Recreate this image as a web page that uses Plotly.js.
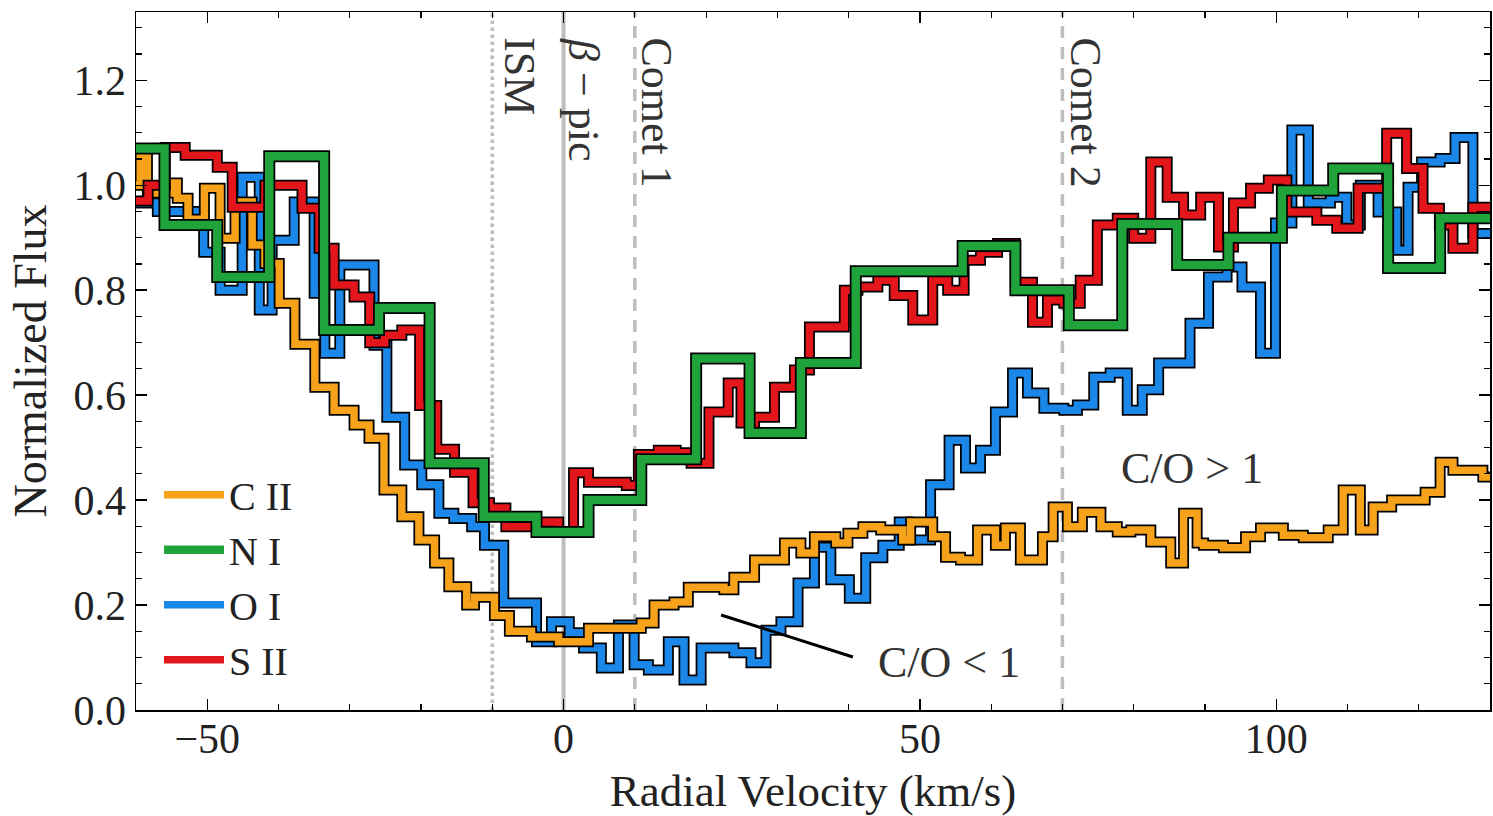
<!DOCTYPE html>
<html>
<head>
<meta charset="utf-8">
<script src="https://cdn.plot.ly/plotly-3.0.1.min.js"></script>
<style>html,body{margin:0;padding:0;background:#fff;}#chart{width:1493px;height:816px;}</style>
</head>
<body>
<div id="chart"></div>
<script>
// ---------------- data ----------------
const seriesNames = ["C II", "N I", "O I", "S II"];

// C II : step left edges (km/s) and normalized flux
const cIIVel = [-60, -59.4, -58.4, -55.2, -54.2, -52.7, -50.4, -48.2, -46.1, -43.7, -41.9, -39.9, -37.7, -34.9, -32.2, -29.4, -27.3, -25.2, -22.7, -20.3, -18.1, -16.1, -13.6, -12.5, -9.7, -7.6, -4.5, -0.7, 3.5, 10.9, 12.7, 15.5, 17.5, 22.5, 23.9, 26.8, 31.0, 33.3, 35.2, 38.2, 39.9, 42.0, 44.5, 47.6, 48.7, 51.8, 53.6, 55.7, 58.1, 60.6, 62.0, 64.1, 67.2, 68.7, 70.7, 72.8, 75.4, 77.7, 79.6, 82.4, 85.2, 87.0, 88.9, 89.8, 92.6, 95.7, 97.8, 101.0, 103.8, 107.3, 109.4, 111.8, 113.6, 116.2, 120.9, 123.0, 124.8, 129.0];
const cIIFlux = [1.00, 1.063, 0.985, 1.004, 0.975, 0.935, 0.994, 0.899, 0.968, 0.886, 0.851, 0.775, 0.697, 0.615, 0.571, 0.543, 0.518, 0.419, 0.368, 0.324, 0.28, 0.235, 0.20, 0.215, 0.18, 0.15, 0.139, 0.13, 0.156, 0.166, 0.20, 0.206, 0.234, 0.229, 0.253, 0.286, 0.318, 0.299, 0.33, 0.318, 0.337, 0.349, 0.343, 0.324, 0.358, 0.33, 0.291, 0.286, 0.343, 0.314, 0.347, 0.286, 0.33, 0.387, 0.349, 0.377, 0.349, 0.339, 0.343, 0.32, 0.28, 0.375, 0.318, 0.314, 0.309, 0.33, 0.347, 0.333, 0.328, 0.343, 0.419, 0.343, 0.387, 0.40, 0.415, 0.472, 0.457, 0.444];

// N I
const nIVel = [-60, -56.0, -48.6, -41.3, -33.6, -25.9, -18.8, -11.2, -3.8, 3.5, 10.9, 18.6, 26.1, 33.3, 41.0, 48.5, 56.0, 63.4, 70.9, 78.4, 86.1, 93.3, 100.8, 108.0, 115.7, 123.0];
const nIFlux = [1.07, 0.924, 0.825, 1.055, 0.724, 0.766, 0.47, 0.368, 0.339, 0.40, 0.478, 0.67, 0.528, 0.661, 0.836, 0.836, 0.884, 0.80, 0.733, 0.926, 0.848, 0.90, 0.99, 1.032, 0.842, 0.937];

// O I
const oIVel = [-60, -57.0, -51.7, -50.5, -48.2, -45.1, -42.7, -40.9, -37.8, -35.0, -33.5, -31.4, -26.6, -24.8, -22.3, -19.9, -17.5, -15.4, -12.9, -11.1, -8.4, -3.8, -1.7, 0.8, 2.8, 5.3, 7.7, 9.9, 11.9, 14.7, 16.9, 19.3, 23.9, 26.3, 28.4, 30.5, 32.9, 35.2, 37.5, 40.1, 42.4, 44.8, 47.1, 48.3, 51.5, 54.1, 56.4, 58.5, 60.6, 63.0, 65.1, 67.4, 70.2, 72.1, 74.4, 76.7, 79.1, 81.2, 83.5, 87.9, 90.5, 93.1, 95.2, 97.8, 99.9, 102.2, 104.5, 107.6, 109.9, 111.8, 114.3, 116.9, 118.5, 120.4, 123.0, 125.1, 127.6];
const oIFlux = [0.966, 0.95, 0.94, 0.872, 0.80, 1.015, 0.762, 0.895, 0.968, 0.794, 0.68, 0.848, 0.695, 0.558, 0.467, 0.429, 0.375, 0.365, 0.349, 0.314, 0.204, 0.13, 0.168, 0.147, 0.118, 0.08, 0.162, 0.086, 0.076, 0.13, 0.057, 0.118, 0.109, 0.09, 0.152, 0.168, 0.242, 0.31, 0.248, 0.213, 0.29, 0.314, 0.358, 0.324, 0.429, 0.514, 0.461, 0.495, 0.568, 0.642, 0.604, 0.575, 0.571, 0.581, 0.634, 0.642, 0.571, 0.61, 0.661, 0.737, 0.825, 0.844, 0.806, 0.68, 0.928, 1.105, 0.966, 0.977, 0.924, 1.0, 0.949, 0.876, 0.996, 1.044, 1.051, 1.091, 0.908];

// S II
const sIIVel = [-60, -58.3, -55.9, -53.1, -48.6, -46.5, -41.9, -36.7, -34.3, -32.2, -29.4, -27.2, -25.1, -22.7, -20.2, -17.8, -15.3, -12.7, -10.4, -8.1, -3.4, -0.7, 1.4, 3.5, 8.8, 10.5, 13.3, 15.8, 17.9, 20.4, 23.1, 24.9, 26.8, 29.6, 32.4, 34.5, 39.4, 41.3, 44.1, 46.4, 49.0, 51.8, 53.9, 56.2, 58.5, 60.9, 63.4, 65.8, 67.9, 70.2, 72.5, 74.9, 77.7, 80.0, 82.4, 84.7, 87.0, 89.4, 91.9, 94.0, 96.4, 98.9, 101.5, 105.7, 108.5, 111.5, 115.5, 118.3, 120.6, 122.9, 124.8, 127.6];
const sIIFlux = [0.97, 1.00, 1.072, 1.057, 1.034, 0.958, 1.0, 0.956, 0.88, 0.81, 0.787, 0.70, 0.714, 0.724, 0.58, 0.497, 0.453, 0.395, 0.385, 0.349, 0.358, 0.34, 0.452, 0.434, 0.428, 0.487, 0.495, 0.49, 0.47, 0.568, 0.623, 0.547, 0.558, 0.615, 0.648, 0.73, 0.80, 0.806, 0.819, 0.79, 0.743, 0.819, 0.80, 0.857, 0.872, 0.889, 0.815, 0.739, 0.781, 0.775, 0.819, 0.924, 0.937, 0.899, 1.044, 0.977, 0.943, 0.977, 0.882, 0.966, 0.994, 1.01, 0.949, 0.933, 0.918, 0.994, 1.099, 1.032, 0.956, 0.924, 0.88, 0.958];

// reference velocities and their labels
const refVel = [-10, 0, 10, 70];
const refLabels = ["ISM", "<i>β</i> − pic", "Comet 1", "Comet 2"];
const refLabelVel = [-6.2, 2.8, 13.0, 73.2];
const refDash = ["dot", "solid", "12px,9px", "12px,9px"];

// C/O annotations
const coLabels = ["C/O > 1", "C/O < 1"];
const coVel = [88.2, 54.1];
const coFlux = [0.461, 0.091];
const pointerVel = [22.1, 40.6];
const pointerFlux = [0.181, 0.101];

const xTickVals = [-50, 0, 50, 100];
const yTickVals = [0.0, 0.2, 0.4, 0.6, 0.8, 1.0, 1.2];

// ---------------- styling ----------------
const colors = {"C II": "#f7a21b", "N I": "#1fa33a", "O I": "#1b87e8", "S II": "#e3161c"};
const widths = {"C II": 7.5, "N I": 8.5, "O I": 7.5, "S II": 7.5};
const X_END = 131;
const FONT = "Liberation Serif, DejaVu Serif, serif";

const seriesData = {
  "C II": [cIIVel, cIIFlux],
  "N I": [nIVel, nIFlux],
  "O I": [oIVel, oIFlux],
  "S II": [sIIVel, sIIFlux]
};
const drawOrder = ["O I", "C II", "S II", "N I"];

const traces = [];
drawOrder.forEach(name => {
  const [vx, vy] = seriesData[name];
  const xs = vx.concat([X_END]);
  const ys = vy.concat([vy[vy.length - 1]]);
  traces.push({
    x: xs, y: ys, type: "scatter", mode: "lines",
    line: {shape: "hv", color: "#000", width: widths[name] + 3.5},
    showlegend: false, hoverinfo: "skip"
  });
  traces.push({
    x: xs, y: ys, type: "scatter", mode: "lines", name: name,
    line: {shape: "hv", color: colors[name], width: widths[name]},
    legendrank: seriesNames.indexOf(name) + 1
  });
});
traces.push({
  x: pointerVel, y: pointerFlux, type: "scatter", mode: "lines",
  line: {color: "#000", width: 3}, showlegend: false, hoverinfo: "skip"
});

const shapes = refVel.map((v, i) => ({
  type: "line", xref: "x", yref: "paper", x0: v, x1: v, y0: 0, y1: 1,
  line: {color: "#bdbdbd", width: i === 1 ? 4 : 3.5, dash: refDash[i]},
  layer: "below"
}));

const annotations = refLabels.map((t, i) => ({
  text: t, x: refLabelVel[i], y: 1.285, xref: "x", yref: "y",
  textangle: 90, xanchor: "center", yanchor: "top", showarrow: false,
  font: {family: FONT, size: 44, color: "#333"}
})).concat(coLabels.map((t, i) => ({
  text: t, x: coVel[i], y: coFlux[i], xref: "x", yref: "y",
  xanchor: "center", yanchor: "middle", showarrow: false,
  font: {family: FONT, size: 44, color: "#333"}
})));

const axisCommon = {
  showline: true, linecolor: "#000", linewidth: 1.5, mirror: "allticks",
  ticks: "inside", ticklen: 11, tickwidth: 1.3, tickcolor: "#000",
  showgrid: false, zeroline: false,
  tickfont: {family: FONT, size: 42, color: "#222"}
};

const layout = {
  width: 1493, height: 816,
  margin: {l: 136, r: 3, t: 12, b: 106},
  paper_bgcolor: "#fff", plot_bgcolor: "#fff",
  xaxis: Object.assign({}, axisCommon, {
    range: [-60, 130], tickvals: xTickVals, ticklabelstandoff: -9,
    minor: {dtick: 10, tick0: 0, ticks: "inside", ticklen: 6, tickwidth: 1.2, tickcolor: "#000"},
    title: {text: "Radial Velocity (km/s)", font: {family: FONT, size: 45, color: "#222"}, standoff: 14}
  }),
  yaxis: Object.assign({}, axisCommon, {
    range: [0, 1.33], tickvals: yTickVals, tickformat: ".1f",
    minor: {dtick: 0.05, tick0: 0, ticks: "inside", ticklen: 6, tickwidth: 1.2, tickcolor: "#000"},
    title: {text: "Normalized Flux", font: {family: FONT, size: 46, color: "#222"}, standoff: 12}
  }),
  legend: {
    x: 0.017, y: 0.355, xanchor: "left", yanchor: "top",
    bgcolor: "rgba(255,255,255,0)", borderwidth: 0,
    font: {family: FONT, size: 40, color: "#222"},
    itemwidth: 60, tracegroupgap: 0
  },
  shapes: shapes,
  annotations: annotations,
  showlegend: true
};

Plotly.newPlot("chart", traces, layout, {displayModeBar: false, staticPlot: true});
</script>
</body>
</html>
